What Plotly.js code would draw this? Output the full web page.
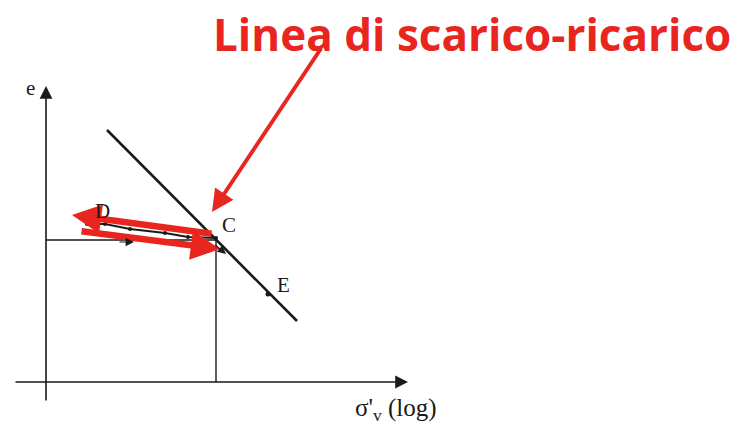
<!DOCTYPE html>
<html>
<head>
<meta charset="utf-8">
<script src="https://cdn.plot.ly/plotly-3.0.1.min.js"></script>
<style>
  html, body { margin: 0; padding: 0; background: #fff; }
  #chart { width: 740px; height: 427px; }
</style>
</head>
<body>
<div id="chart"></div>
<script>
// Diagram e – log σ'v: virgin compression line with an unload/reload loop (D–C).
// Coordinates are in the drawing's own units (x to the right, y downward).

// Virgin compression line
const virginX = [107, 297];
const virginY = [130, 321];

// Unload-reload line from C back to D
const unloadX = [87, 105, 130, 165, 188, 216];
const unloadY = [224, 224, 229, 233, 237, 238];

// Construction lines marking the point C
const guideHX = [46, 216];
const guideHY = [240, 240];
const guideVX = [216, 216];
const guideVY = [240, 382];

// Marked point E on the virgin line
const pointEX = [268];
const pointEY = [294];

// Point labels
const labelText = ['D', 'C', 'E'];
const labelX = [102, 229, 283];
const labelY = [211, 225, 285];

// Axis arrows: [x0, y0, x1, y1]
const axisE = [46, 402, 46, 86];
const axisS = [14, 382, 408, 382];

// Red unload / reload arrows: [tailX, tailY, tipX, tipY]
const unloadArrow = [213, 234, 72, 215];
const reloadArrow = [80, 231, 220, 249];

// Red pointer from the caption to point C
const pointer = [322, 47, 212, 212];

const black = '#1a1a1a';
const red = '#e8261f';

const traces = [
  { x: virginX, y: virginY, mode: 'lines', line: { color: black, width: 2.6 } },
  { x: guideHX, y: guideHY, mode: 'lines', line: { color: black, width: 1.4 } },
  { x: guideVX, y: guideVY, mode: 'lines', line: { color: black, width: 1.4 } },
  { x: unloadX, y: unloadY, mode: 'lines+markers', line: { color: black, width: 2 },
    marker: { color: black, size: 4 } },
  { x: pointEX, y: pointEY, mode: 'markers', marker: { color: black, size: 5 } }
];

function arrow(seg, color, width, head, size) {
  return {
    x: seg[2], y: seg[3], ax: seg[0], ay: seg[1],
    xref: 'x', yref: 'y', axref: 'x', ayref: 'y',
    showarrow: true, text: '', arrowcolor: color, arrowwidth: width,
    arrowhead: head, arrowsize: size, standoff: 0, startstandoff: 0
  };
}

const serif = 'Liberation Serif, Times New Roman, serif';
const annotations = [
  arrow(axisE, black, 1.6, 2, 1.6),
  arrow(axisS, black, 1.6, 2, 1.6),
  arrow(unloadArrow, red, 6.5, 2, 0.9),
  arrow(reloadArrow, red, 6.5, 2, 0.9),
  arrow(pointer, red, 4, 2, 1.1),
  // small direction marks along the reload path
  arrow([118, 242, 134, 242], black, 1.2, 2, 1.4),
  arrow([214, 244, 226, 254], black, 1.2, 2, 1.4)
];

labelText.forEach((t, i) => annotations.push({
  x: labelX[i], y: labelY[i], xref: 'x', yref: 'y', text: t, showarrow: false,
  font: { family: serif, size: 21, color: black }
}));

annotations.push(
  { x: 30, y: 88, xref: 'x', yref: 'y', text: 'e', showarrow: false,
    font: { family: serif, size: 21, color: black } },
  { x: 396, y: 409, xref: 'x', yref: 'y', text: "σ'<sub>v</sub> (log)", showarrow: false,
    font: { family: serif, size: 25, color: black } },
  { x: 472, y: 34, xref: 'x', yref: 'y', text: '<b>Linea di scarico-ricarico</b>', showarrow: false,
    font: { family: 'Open Sans, Liberation Sans, sans-serif', size: 44, color: red } }
);

const layout = {
  width: 740, height: 427,
  margin: { l: 0, r: 0, t: 0, b: 0 },
  paper_bgcolor: '#fff', plot_bgcolor: '#fff',
  showlegend: false,
  xaxis: { range: [0, 740], visible: false, fixedrange: true },
  yaxis: { range: [427, 0], visible: false, fixedrange: true },
  annotations: annotations
};

Plotly.newPlot('chart', traces, layout, { staticPlot: true, displayModeBar: false });
</script>
</body>
</html>
